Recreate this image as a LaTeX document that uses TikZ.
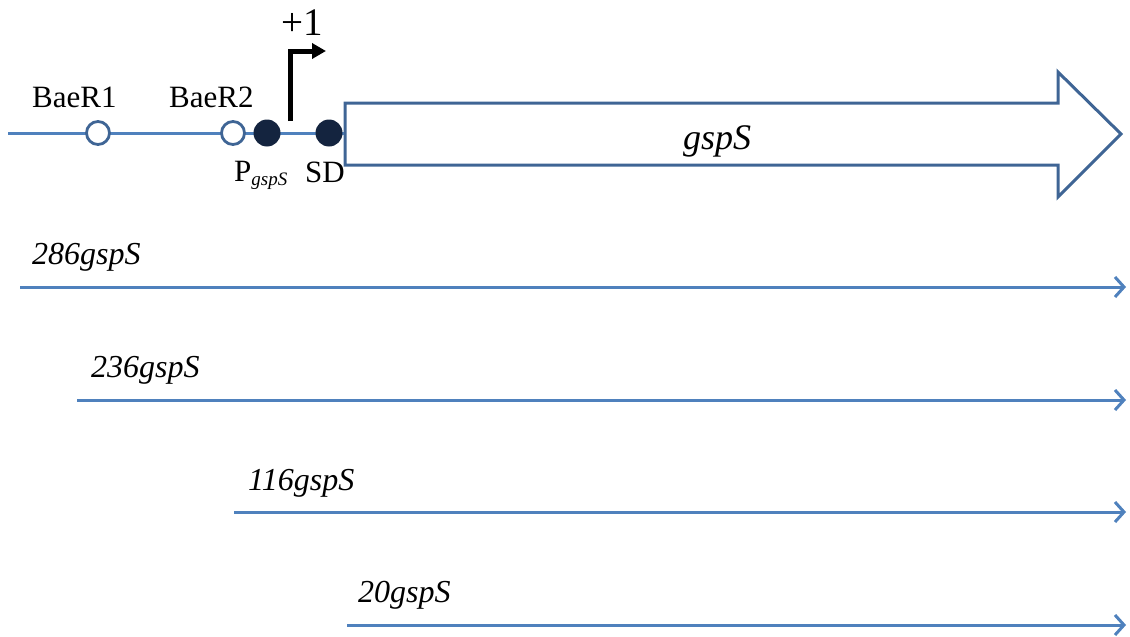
\documentclass[tikz,border=0pt]{standalone}
\usepackage{fontspec}
\setmainfont{Liberation Serif}
\usetikzlibrary{arrows.meta}
\definecolor{lineblue}{HTML}{4F81BD}
\definecolor{darkblue}{HTML}{3F6595}
\definecolor{navy}{HTML}{14243F}
\tikzset{
  lbl/.style={inner sep=0pt, anchor=base west, font=\fontsize{31}{36}\selectfont},
  ilbl/.style={lbl, font=\fontsize{32}{36}\selectfont\itshape},
  opensite/.style={circle, draw=darkblue, line width=2.8pt, fill=white, minimum size=23pt, inner sep=0pt},
  filledsite/.style={circle, fill=navy, minimum size=27pt, inner sep=0pt},
  construct/.style={lineblue, line width=3pt, -{Straight Barb[length=9pt,width=20pt,line width=3pt]}},
}
\begin{document}
\begin{tikzpicture}[x=1pt,y=-1pt]
\useasboundingbox (0,0) rectangle (1130,637);
% backbone
\coordinate (bstart) at (8,133);
\coordinate (bend) at (345,133);
\draw[lineblue, line width=3pt] (bstart) -- (bend);
% gene arrow
\draw[darkblue, line width=3pt, fill=white, line join=miter]
  (345,103) -- (1058,103) -- (1058,72) -- (1121,134) -- (1058,197) -- (1058,165) -- (345,165) -- cycle;
\node[inner sep=0pt, font=\fontsize{36}{40}\selectfont\itshape] (gene) at (717,141) {gspS};
% sites
\node[opensite] (b1) at (98,133) {};
\node[opensite] (b2) at (233,133) {};
\node[filledsite] (p) at (267,133) {};
\node[filledsite] (sd) at (329,133) {};
\node[lbl] (lb1) at (32,107) {BaeR1};
\node[lbl] (lb2) at (169,107) {BaeR2};
\node[lbl] (lp) at (234,181) {P\raisebox{-0.3ex}{\fontsize{19}{22}\selectfont\itshape gspS}};
\node[lbl] (lsd) at (305,182) {SD};
% transcription start
\coordinate (tss) at (290,121);
\coordinate (tsscorner) at (290,51);
\coordinate (tssend) at (326,51);
\draw[black, line width=5pt, line join=miter, -{Triangle[length=14pt,width=15pt]}] (tss) -- (tsscorner) -- (tssend);
\node[lbl, font=\fontsize{39}{44}\selectfont] (plus) at (281,35) {+1};
% constructs
\coordinate (c1s) at (20,287);  \coordinate (c1e) at (1126,287);
\coordinate (c2s) at (77,400);  \coordinate (c2e) at (1126,400);
\coordinate (c3s) at (234,512); \coordinate (c3e) at (1126,512);
\coordinate (c4s) at (347,625); \coordinate (c4e) at (1126,625);
\draw[construct] (c1s) -- (c1e);
\draw[construct] (c2s) -- (c2e);
\draw[construct] (c3s) -- (c3e);
\draw[construct] (c4s) -- (c4e);
\node[ilbl] (l1) at (32,264) {286gspS};
\node[ilbl] (l2) at (91,377) {236gspS};
\node[ilbl] (l3) at (248,490) {116gspS};
\node[ilbl] (l4) at (358,602) {20gspS};
\end{tikzpicture}
\end{document}
